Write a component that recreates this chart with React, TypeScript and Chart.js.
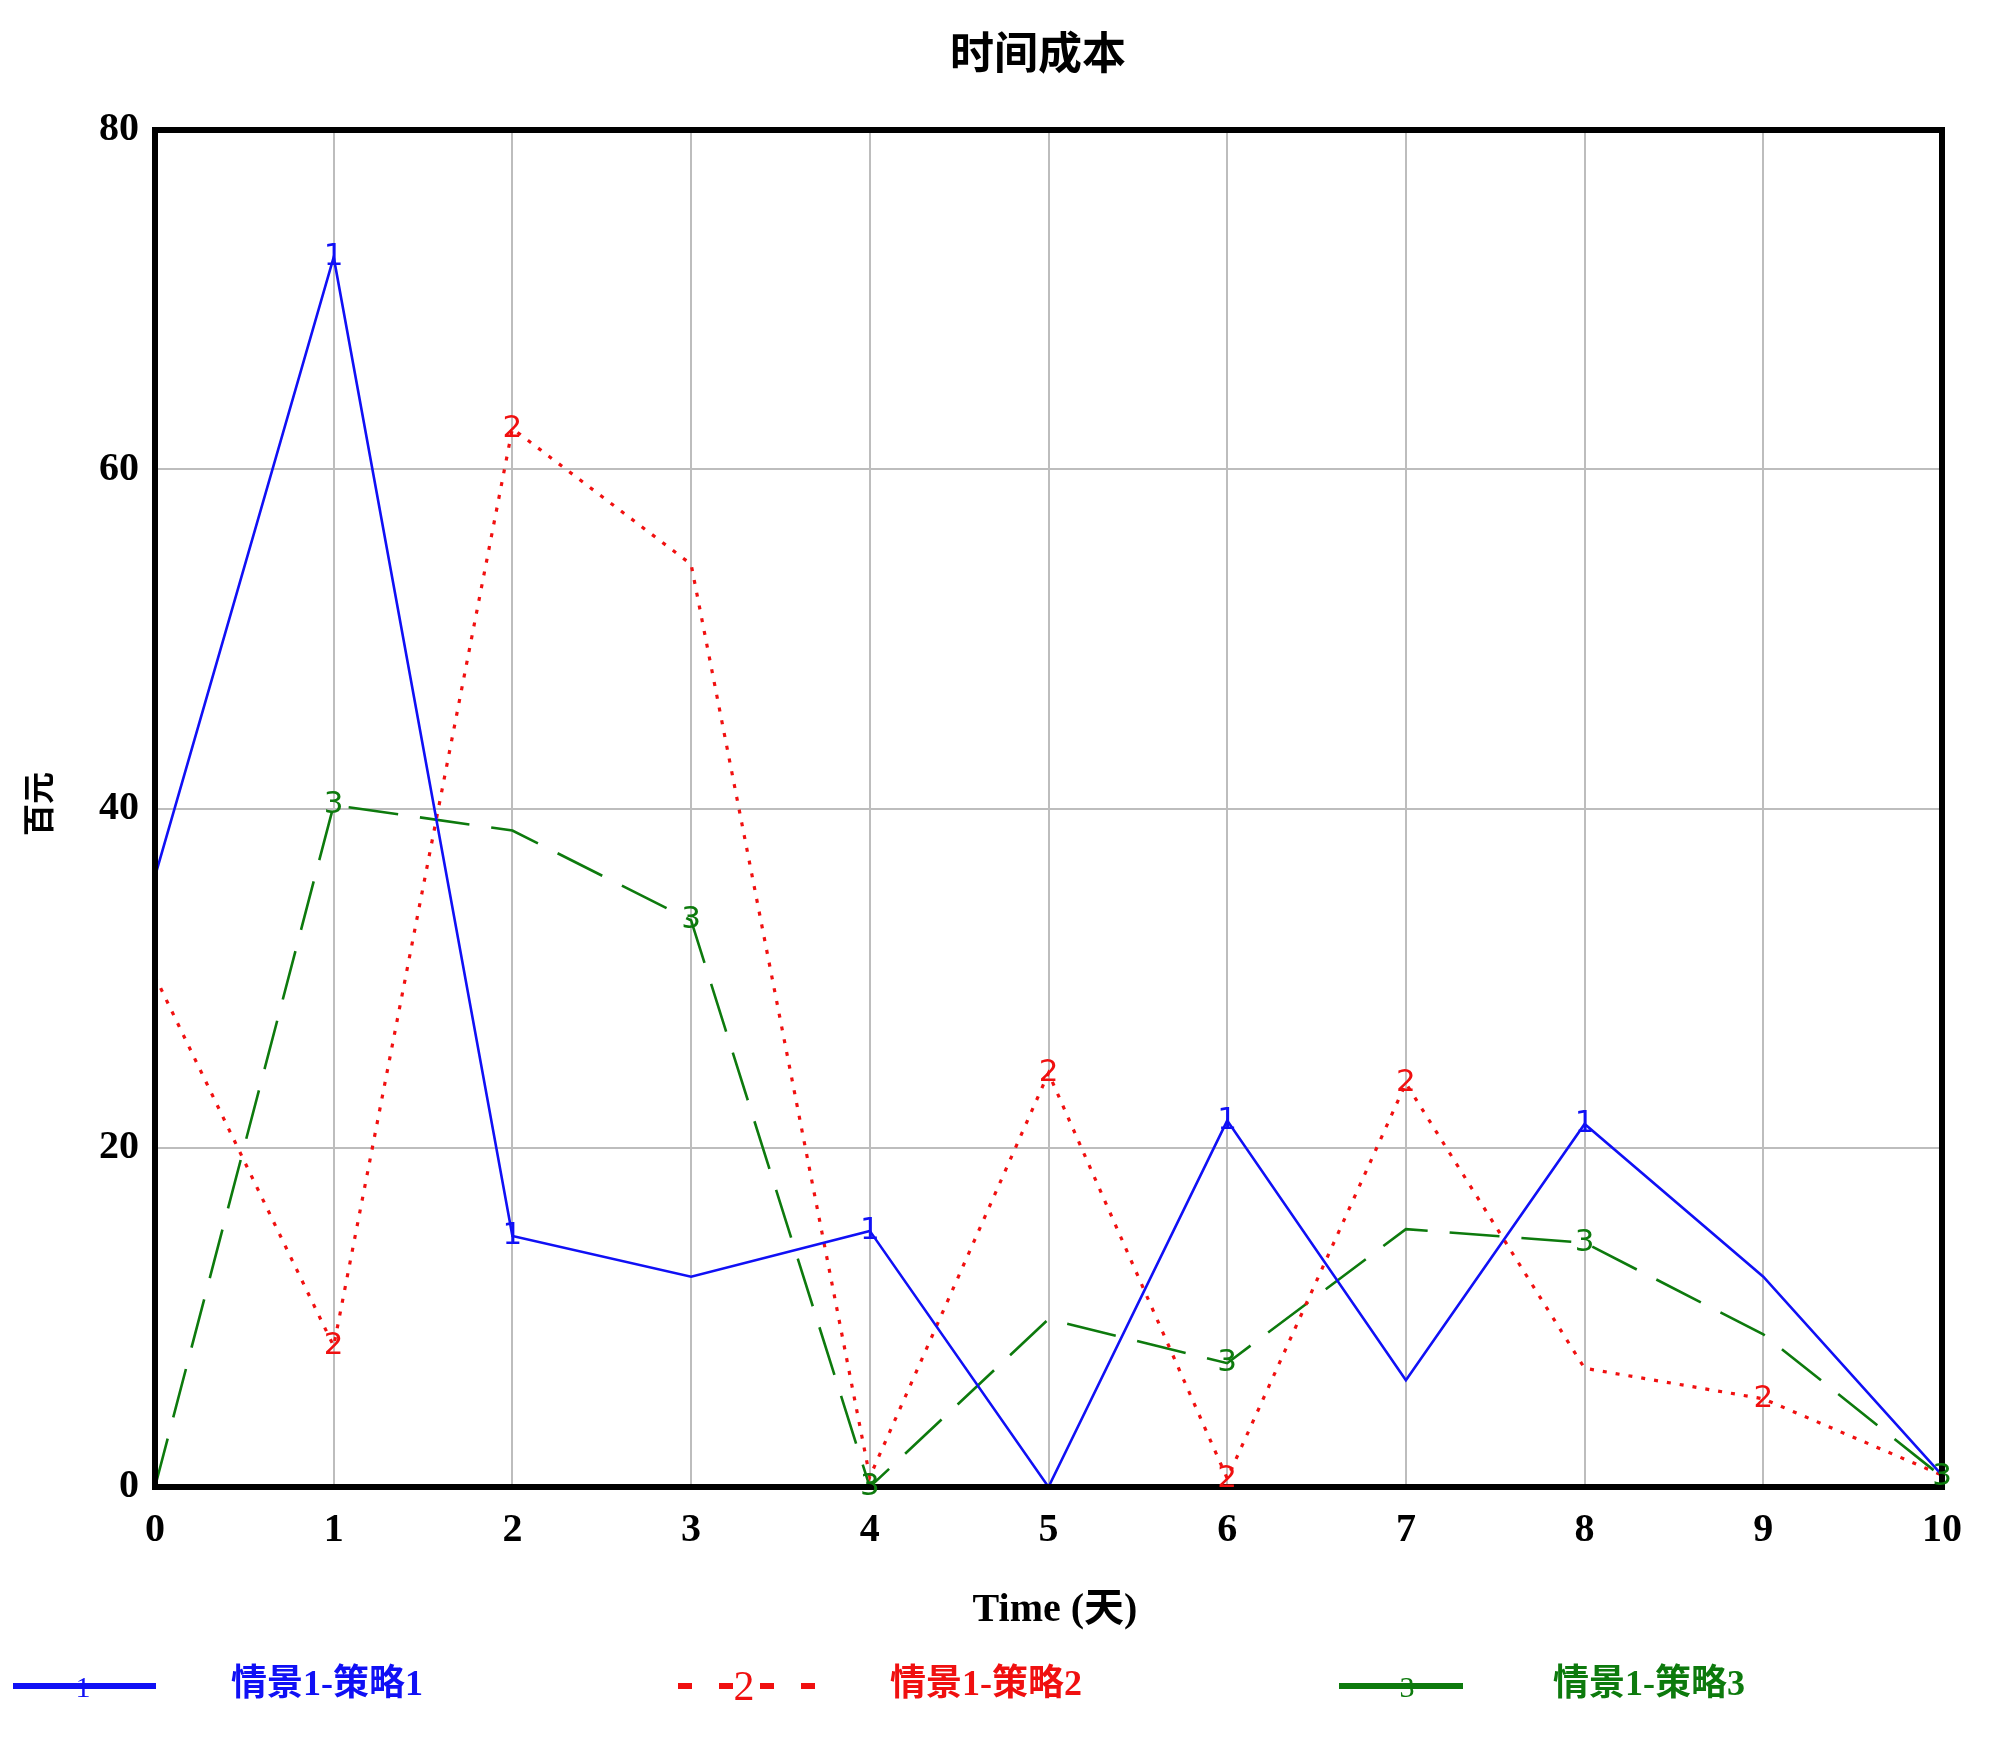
import React, { useEffect, useRef } from "react";
import { Chart, registerables } from "chart.js";

Chart.register(...registerables);

// ---- data ----
const days = [0, 1, 2, 3, 4, 5, 6, 7, 8, 9, 10];
const strategy1 = [36.0, 72.5, 14.8, 12.4, 15.1, 0.0, 21.6, 6.3, 21.4, 12.4, 0.7];
const strategy2 = [30.1, 8.3, 62.4, 54.4, 0.6, 24.4, 0.5, 23.8, 7.0, 5.2, 0.7];
const strategy3 = [0.0, 40.2, 38.7, 33.4, 0.0, 9.9, 7.3, 15.2, 14.4, 9.0, 0.6];
const yTickValues = [0, 20, 40, 60, 80];
const seriesNames = ["情景1-策略1", "情景1-策略2", "情景1-策略3"];
const markerTexts = ["1", "2", "3"];
const markerIdx1 = [1, 2, 4, 6, 8];
const markerIdx2 = [1, 2, 5, 6, 7, 9];
const markerIdx3 = [1, 3, 4, 6, 8, 10];
const chartTitle = "时间成本";
const xAxisTitle = "Time (天)";
const yAxisTitle = "百元";

const colors = ["#1010f5", "#f01010", "#0d7a0d"];
const markerSets = [markerIdx1, markerIdx2, markerIdx3];
const serif = "'Liberation Serif', 'Noto Sans CJK SC', serif";

const decorPlugin = {
  id: "decor",
  afterDatasetsDraw(chart: any) {
    const ctx = chart.ctx as CanvasRenderingContext2D;
    const { left, right, top, bottom } = chart.chartArea;
    ctx.save();
    // frame
    ctx.lineWidth = 6;
    ctx.strokeStyle = "#000";
    ctx.setLineDash([]);
    ctx.strokeRect(left, top, right - left, bottom - top);

    // markers on lines
    ctx.font = "31px 'DejaVu Sans', sans-serif";
    ctx.textAlign = "center";
    ctx.textBaseline = "middle";
    markerSets.forEach((idxs, di) => {
      const meta = chart.getDatasetMeta(di);
      ctx.fillStyle = colors[di];
      idxs.forEach((i) => {
        const p = meta.data[i];
        if (p) ctx.fillText(markerTexts[di], p.x, p.y);
      });
    });

    // title
    ctx.fillStyle = "#000";
    ctx.font = `bold 44px ${serif}`;
    ctx.fillText(chartTitle, 1038, 58);

    // x axis title
    ctx.font = `bold 40px ${serif}`;
    ctx.fillText(xAxisTitle, 1055, 1611);

    // y axis title
    ctx.save();
    ctx.translate(42, 804);
    ctx.rotate(-Math.PI / 2);
    ctx.font = `bold 32px ${serif}`;
    ctx.fillText(yAxisTitle, 0, 0);
    ctx.restore();

    // legend
    const ly = 1686;
    ctx.lineWidth = 6;
    // blue
    ctx.strokeStyle = colors[0];
    ctx.beginPath();
    ctx.moveTo(13, ly);
    ctx.lineTo(156, ly);
    ctx.stroke();
    // red dashed
    ctx.strokeStyle = colors[1];
    ctx.setLineDash([14, 27]);
    ctx.beginPath();
    ctx.moveTo(678, ly);
    ctx.lineTo(815, ly);
    ctx.stroke();
    ctx.setLineDash([]);
    // green
    ctx.strokeStyle = colors[2];
    ctx.beginPath();
    ctx.moveTo(1339, ly);
    ctx.lineTo(1463, ly);
    ctx.stroke();

    const markX = [83, 744, 1407];
    const markSize = [30, 42, 30];
    markX.forEach((x, i) => {
      ctx.fillStyle = colors[i];
      ctx.font = `${markSize[i]}px ${serif}`;
      ctx.fillText(markerTexts[i], x, ly + 3);
    });

    ctx.font = `bold 36px ${serif}`;
    ctx.textAlign = "left";
    const textX = [231, 890, 1553];
    textX.forEach((x, i) => {
      ctx.fillStyle = colors[i];
      ctx.fillText(seriesNames[i], x, ly);
    });
    ctx.restore();
  },
};

export default function App() {
  const canvasRef = useRef<HTMLCanvasElement | null>(null);

  useEffect(() => {
    if (!canvasRef.current) return;
    const toPts = (arr: number[]) => days.map((d, i) => ({ x: d, y: arr[i] }));
    const chart = new Chart(canvasRef.current, {
      type: "line",
      data: {
        datasets: [
          {
            label: seriesNames[0],
            data: toPts(strategy1),
            borderColor: colors[0],
            borderWidth: 2.6,
            pointRadius: 0,
            tension: 0,
            clip: false as any,
          },
          {
            label: seriesNames[1],
            data: toPts(strategy2),
            borderColor: colors[1],
            borderWidth: 3.2,
            borderDash: [4, 9],
            pointRadius: 0,
            tension: 0,
            clip: false as any,
          },
          {
            label: seriesNames[2],
            data: toPts(strategy3),
            borderColor: colors[2],
            borderWidth: 2.6,
            borderDash: [50, 22],
            pointRadius: 0,
            tension: 0,
            clip: false as any,
          },
        ],
      },
      options: {
        responsive: false,
        animation: false,
        layout: { padding: { top: 130, right: 58, bottom: 0, left: 0 } },
        plugins: {
          legend: { display: false },
          title: { display: false },
          tooltip: { enabled: false },
        },
        scales: {
          x: {
            type: "linear",
            min: 0,
            max: 10,
            ticks: {
              stepSize: 1,
              padding: 20,
              color: "#000",
              font: { family: serif, size: 40, weight: "bold" },
            },
            grid: { color: "#bdbdbd", lineWidth: 2, drawTicks: false },
            border: { display: false },
            afterFit: (scale: any) => {
              scale.height = 250;
            },
          },
          y: {
            type: "linear",
            min: 0,
            max: 80,
            afterBuildTicks: (scale: any) => {
              scale.ticks = yTickValues.map((v) => ({ value: v }));
            },
            ticks: {
              padding: 16,
              color: "#000",
              font: { family: serif, size: 40, weight: "bold" },
            },
            grid: { color: "#bdbdbd", lineWidth: 2, drawTicks: false },
            border: { display: false },
            afterFit: (scale: any) => {
              scale.width = 155;
            },
          },
        },
      },
      plugins: [decorPlugin],
    });
    return () => chart.destroy();
  }, []);

  return (
    <div style={{ position: "absolute", left: 0, top: 0, width: 2000, height: 1737, background: "#fff" }}>
      <canvas ref={canvasRef} width={2000} height={1737} style={{ width: 2000, height: 1737, display: "block" }} />
    </div>
  );
}
